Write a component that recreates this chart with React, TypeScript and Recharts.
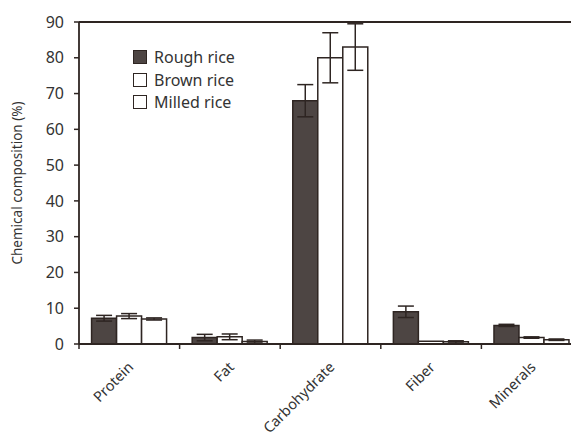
import React from 'react';
import { BarChart, Bar, XAxis, YAxis, ErrorBar, ReferenceLine, Legend } from 'recharts';

const categories = ['Protein', 'Fat', 'Carbohydrate', 'Fiber', 'Minerals'];
const roughRice = [7.2, 1.8, 68, 9, 5.2];
const roughRiceErr = [0.8, 0.9, 4.5, 1.6, 0.3];
const brownRice = [7.8, 2.0, 80, 0.8, 1.8];
const brownRiceErr = [0.7, 0.8, 7, 0, 0.2];
const milledRice = [7.0, 0.7, 83, 0.6, 1.2];
const milledRiceErr = [0.3, 0.4, 6.5, 0.3, 0.2];
const yTicks = [0, 10, 20, 30, 40, 50, 60, 70, 80, 90];
const seriesNames = ['Rough rice', 'Brown rice', 'Milled rice'];

const data = categories.map((name, i) => ({
  name,
  rough: roughRice[i],
  roughErr: roughRiceErr[i],
  brown: brownRice[i],
  brownErr: brownRiceErr[i],
  milled: milledRice[i],
  milledErr: milledRiceErr[i],
}));

const INK = '#2e2522';
const TEXT = '#333';
const ROUGH_FILL = '#4d4543';
const FONT = '"Noto Sans", sans-serif';

const CHART_W = 582;
const Y_W = 79;
const BAND = (CHART_W - Y_W) / categories.length;

const fills = [ROUGH_FILL, '#fff', '#fff'];

const XTick = (props: any) => {
  const { x, y, payload } = props;
  const ax = x + 5;
  const ay = y + 24;
  return (
    <g>
      <line x1={x - BAND / 2} y1={y} x2={x - BAND / 2} y2={y + 5} stroke={INK} strokeWidth={1.5} />
      <text
        x={ax}
        y={ay}
        textAnchor="end"
        transform={`rotate(-45 ${ax} ${ay})`}
        fontSize={14.5}
        fontFamily={FONT}
        fill={TEXT}
      >
        {payload.value}
      </text>
    </g>
  );
};

const YLabel = (props: any) => {
  const vb = props.viewBox || {};
  const cy = (vb.y ?? 22) + (vb.height ?? 322) / 2;
  return (
    <text
      x={18}
      y={cy}
      textAnchor="middle"
      dominantBaseline="middle"
      transform={`rotate(-90 18 ${cy})`}
      fontSize={13.5}
      fontFamily={FONT}
      fill={TEXT}
    >
      Chemical composition (%)
    </text>
  );
};

const LegendBox = () => (
  <div style={{ fontFamily: FONT, fontSize: 16, color: TEXT }}>
    {seriesNames.map((n, i) => (
      <div key={n} style={{ display: 'flex', alignItems: 'center', height: 22.5 }}>
        <span
          style={{
            display: 'inline-block',
            width: 12,
            height: 12,
            border: `1.5px solid ${INK}`,
            background: fills[i],
            marginRight: 7,
          }}
        />
        {n}
      </div>
    ))}
  </div>
);

export default function App() {
  return (
    <div
      style={{
        position: 'absolute',
        left: 0,
        top: 0,
        width: 571,
        height: 436,
        overflow: 'hidden',
        background: '#fff',
      }}
    >
      <BarChart
        width={CHART_W}
        height={436}
        data={data}
        margin={{ top: 22, right: 0, bottom: 0, left: 0 }}
        barCategoryGap="12.5%"
        barGap={0}
      >
        <XAxis
          dataKey="name"
          height={92}
          tickLine={false}
          tickSize={0}
          tickMargin={0}
          axisLine={{ stroke: INK, strokeWidth: 1.8 }}
          tick={<XTick />}
          interval={0}
        />
        <YAxis
          width={Y_W}
          domain={[0, 90]}
          ticks={yTicks}
          interval={0}
          tickSize={5}
          tickMargin={10}
          axisLine={{ stroke: INK, strokeWidth: 1.8 }}
          tickLine={{ stroke: INK, strokeWidth: 1.5 }}
          tick={{ fontSize: 16, fill: TEXT, fontFamily: FONT }}
          label={YLabel}
        />
        <ReferenceLine y={90} stroke={INK} strokeWidth={1.8} />
        <Legend
          content={<LegendBox />}
          layout="vertical"
          verticalAlign="middle"
          align="center"
          wrapperStyle={{ left: 133, top: 46, width: 'auto', height: 'auto' }}
        />
        <Bar dataKey="rough" name="Rough rice" fill={ROUGH_FILL} stroke={INK} strokeWidth={1.5} isAnimationActive={false}>
          <ErrorBar dataKey="roughErr" width={8} stroke={INK} strokeWidth={1.5} direction="y" isAnimationActive={false} />
        </Bar>
        <Bar dataKey="brown" name="Brown rice" fill="#fff" stroke={INK} strokeWidth={1.5} isAnimationActive={false}>
          <ErrorBar dataKey="brownErr" width={8} stroke={INK} strokeWidth={1.5} direction="y" isAnimationActive={false} />
        </Bar>
        <Bar dataKey="milled" name="Milled rice" fill="#fff" stroke={INK} strokeWidth={1.5} isAnimationActive={false}>
          <ErrorBar dataKey="milledErr" width={8} stroke={INK} strokeWidth={1.5} direction="y" isAnimationActive={false} />
        </Bar>
      </BarChart>
    </div>
  );
}
